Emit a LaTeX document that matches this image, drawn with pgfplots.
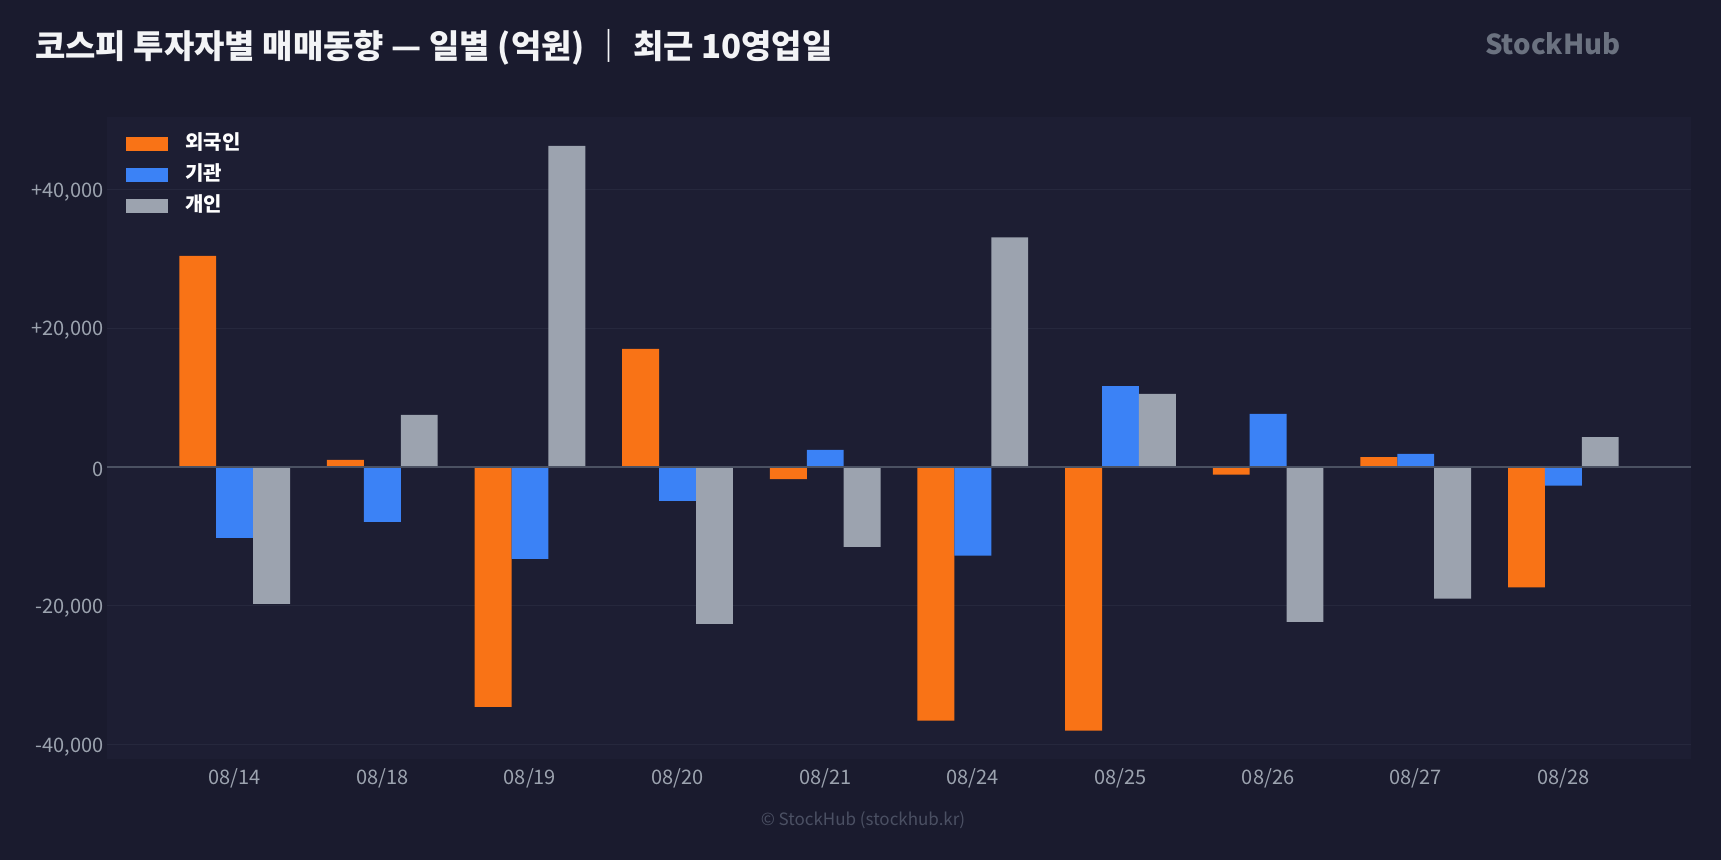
\documentclass[border=0pt]{standalone}
\usepackage{pgfplots}
\pgfplotsset{compat=1.18}
\usepackage{fontspec}
\setmainfont{Noto Sans CJK KR}
\definecolor{bgout}{HTML}{1A1B2E}
\definecolor{bgplot}{HTML}{1D1E33}
\definecolor{gridc}{HTML}{26283D}
\definecolor{zeroc}{HTML}{4B5162}
\definecolor{cfor}{HTML}{F97316}
\definecolor{cinst}{HTML}{3B82F6}
\definecolor{cind}{HTML}{9CA3AF}
\definecolor{ticktxt}{HTML}{9CA3AF}
\definecolor{titletxt}{HTML}{F3F4F6}
\definecolor{wmtxt}{HTML}{6B7280}
\definecolor{foot}{HTML}{4B5063}
\begin{document}
\begin{tikzpicture}[x=1pt,y=1pt]
\useasboundingbox (0,0) rectangle (1721,860);
\fill[bgout] (0,0) rectangle (1721,860);
\node[anchor=base west, inner sep=0pt, text=titletxt, font=\fontsize{33}{40}\selectfont\bfseries] at (35,801) {코스피 투자자별 매매동향 — 일별 (억원) ｜ 최근 10영업일};
\node[anchor=base west, inner sep=0pt, text=wmtxt, font=\fontsize{27.5}{33}\selectfont\bfseries] at (1485,805) {StockHub};
\node[anchor=center, inner sep=0pt, text=foot, font=\fontsize{17}{20}\selectfont] at (863,40) {© StockHub (stockhub.kr)};
\begin{axis}[
  at={(107pt,101pt)}, anchor=south west,
  scale only axis, width=1584pt, height=642pt,
  xmin=-0.865, xmax=9.865, ymin=-42130, ymax=50440,
  scaled y ticks=false,
  axis background/.style={fill=bgplot},
  axis line style={draw=none},
  major tick length=0pt,
  xtick={0,...,9},
  xticklabels={08/14,08/18,08/19,08/20,08/21,08/24,08/25,08/26,08/27,08/28},
  ytick={-40000,-20000,0,20000,40000},
  yticklabels={{-40,000},{-20,000},{0},{+20,000},{+40,000}},
  ymajorgrids, grid style={gridc, line width=1pt},
  ticklabel style={text=ticktxt, font=\fontsize{20}{24}\selectfont},
  xticklabel style={yshift=-6pt},
  yticklabel style={yshift=-2.5pt},
  ybar, bar width=0.25,
  legend style={at={(0,1)}, anchor=north west, xshift=19pt, yshift=-18pt,
    draw=none, fill=none, inner sep=0pt, row sep=13pt,
    font=\fontsize{20}{24}\selectfont\bfseries, text=white,
    nodes={inner sep=0pt, text height=14pt, text depth=4pt}},
  legend cell align=left,
  legend image code/.code={\fill[#1] (0pt,-7pt) rectangle (42pt,7pt);},
  /tikz/every odd column/.append style={column sep=17pt},
]
\addplot[fill=cfor, draw=none, bar shift=-0.25] coordinates {
(0,30430) (1,1010) (2,-34610) (3,17015) (4,-1780) (5,-36600) (6,-38040) (7,-1130) (8,1390) (9,-17400)};
\addplot[fill=cinst, draw=none, bar shift=0] coordinates {
(0,-10240) (1,-7930) (2,-13270) (3,-4900) (4,2450) (5,-12820) (6,11630) (7,7620) (8,1850) (9,-2730)};
\addplot[fill=cind, draw=none, bar shift=0.25] coordinates {
(0,-19755) (1,7500) (2,46290) (3,-22640) (4,-11540) (5,33100) (6,10500) (7,-22340) (8,-19000) (9,4270)};
\legend{외국인,기관,개인}
\draw[zeroc, line width=2pt] (axis cs:-0.865,0) -- (axis cs:9.865,0);
\end{axis}
\end{tikzpicture}
\end{document}
